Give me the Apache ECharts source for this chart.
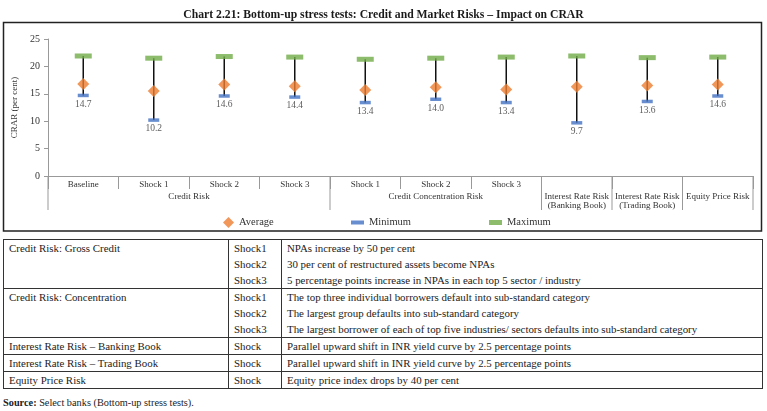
<!DOCTYPE html>
<html>
<head>
<meta charset="utf-8">
<script src="https://cdn.jsdelivr.net/npm/echarts@6/dist/echarts.min.js"></script>
<style>
  html,body{margin:0;padding:0;background:#fff;width:767px;height:411px;overflow:hidden;font-family:"Liberation Serif",serif;color:#222;}
  #chart{position:absolute;left:0;top:0;width:767px;height:236px;}
  #tbl{position:absolute;left:3px;top:239px;width:759px;}
  table{border-collapse:collapse;width:759px;font-size:10.9px;table-layout:fixed;border:1.5px solid #222;}
  td{padding:0 0 0 5px;height:16px;line-height:16px;vertical-align:top;white-space:nowrap;border-left:1px solid #333;border-right:1px solid #333;overflow:hidden;}
  tr.first td{border-top:1px solid #333;}
  tr.last td{border-bottom:1px solid #333;}
  #src{position:absolute;left:3px;top:397px;font-size:10.3px;color:#222;}
</style>
</head>
<body>
<div id="chart"></div>
<div id="tbl"></div>
<div id="src"><b>Source:</b> Select banks (Bottom-up stress tests).</div>
<script>
// ---- data ----
var categories = ['Baseline','Shock 1','Shock 2','Shock 3','Shock 1','Shock 2','Shock 3','',' ','  '];
var groupNames = ['Credit Risk','Credit Concentration Risk','Interest Rate Risk\n(Banking Book)','Interest Rate Risk\n(Trading Book)','Equity Price Risk'];
var groupSizes = [4,3,1,1,1];
var avgVals = [16.8,15.5,16.7,16.4,15.7,16.2,15.8,16.3,16.5,16.7];
var minVals = [14.7,10.2,14.6,14.4,13.4,14.0,13.4,9.7,13.6,14.6];
var maxVals = [21.9,21.5,21.8,21.7,21.3,21.5,21.7,21.9,21.6,21.7];
var yTicks = [0,5,10,15,20,25];

var tableGroups = ['Credit Risk: Gross Credit','Credit Risk: Concentration','Interest Rate Risk – Banking Book','Interest Rate Risk – Trading Book','Equity Price Risk'];
var tableShocks = [['Shock1','Shock2','Shock3'],['Shock1','Shock2','Shock3'],['Shock'],['Shock'],['Shock']];
var tableDescs = [
  ['NPAs increase by 50 per cent','30 per cent of restructured assets become NPAs','5 percentage points increase in NPAs in each top 5 sector / industry'],
  ['The top three individual borrowers default into sub-standard category','The largest group defaults into sub-standard category','The largest borrower of each of top five industries/ sectors defaults into sub-standard category'],
  ['Parallel upward shift in INR yield curve by 2.5 percentage points'],
  ['Parallel upward shift in INR yield curve by 2.5 percentage points'],
  ['Equity price index drops by 40 per cent']
];

// ---- table ----
var html = '<table><colgroup><col style="width:225px"><col style="width:53px"><col style="width:481px"></colgroup>';
tableGroups.forEach(function(g, gi){
  var n = tableShocks[gi].length;
  for (var k = 0; k < n; k++){
    var cls = (k === 0 ? 'first ' : '') + (k === n-1 ? 'last' : '');
    html += '<tr class="' + cls + '">';
    if (k === 0) html += '<td rowspan="' + n + '" style="border-bottom:1px solid #333">' + g + '</td>';
    html += '<td>' + tableShocks[gi][k] + '</td><td>' + tableDescs[gi][k] + '</td></tr>';
  }
});
html += '</table>';
document.getElementById('tbl').innerHTML = html;

// ---- group boundaries & centres ----
var bounds = [0], centres = [], acc = 0;
groupSizes.forEach(function(s){ centres.push(acc + s/2); acc += s; bounds.push(acc); });

var FONT = 'Liberation Serif';
var chart = echarts.init(document.getElementById('chart'), null, {renderer:'canvas'});
var rangeData = categories.map(function(c,i){ return [i, minVals[i], maxVals[i]]; });

chart.setOption({
  animation:false,
  textStyle:{fontFamily:FONT},
  title:{text:'Chart 2.21: Bottom-up stress tests: Credit and Market Risks – Impact on CRAR', left:'center', top:4,
    textStyle:{fontFamily:FONT, fontSize:11.7, fontWeight:'bold', color:'#1a1a1a'}},
  graphic:[{type:'rect', shape:{x:3.5,y:22.5,width:758,height:208.5}, style:{fill:'none', stroke:'#222', lineWidth:1.5}, silent:true, z:-1}],
  legend:[
    {data:[{name:'Average', icon:'diamond'}], left:218, top:212, itemWidth:11, itemHeight:11, itemGap:4,
      textStyle:{fontFamily:FONT, fontSize:10.5, color:'#333'}},
    {data:[{name:'Minimum', icon:'rect'}], left:346, top:212, itemWidth:13, itemHeight:4, itemGap:3,
      textStyle:{fontFamily:FONT, fontSize:10.5, color:'#333'}},
    {data:[{name:'Maximum', icon:'rect'}], left:484, top:212, itemWidth:13, itemHeight:5, itemGap:3,
      textStyle:{fontFamily:FONT, fontSize:10.5, color:'#333'}}
  ],
  grid:{left:48, top:39, right:14, bottom:60, containLabel:false},
  xAxis:[
    {type:'category', data:categories, boundaryGap:true,
      axisLine:{lineStyle:{color:'#999'}},
      axisTick:{show:true, interval:0, alignWithLabel:false, length:13, lineStyle:{color:'#999'}},
      axisLabel:{interval:0, fontFamily:FONT, fontSize:9, color:'#333', margin:4}},
    {type:'value', min:0, max:10, interval:0.5, position:'bottom',
      axisLine:{show:false}, axisTick:{show:false}, splitLine:{show:false},
      axisLabel:{fontFamily:FONT, fontSize:9, color:'#333', margin:16, lineHeight:9, verticalAlign:'top',
        showMinLabel:true, showMaxLabel:true,
        formatter:function(v){ for (var i=0;i<centres.length;i++){ if (Math.abs(centres[i]-v)<1e-6) return groupNames[i]; } return ''; }}}
  ],
  yAxis:{type:'value', min:yTicks[0], max:yTicks[yTicks.length-1], interval:5,
    name:'CRAR (per cent)', nameLocation:'middle', nameGap:26,
    nameTextStyle:{fontFamily:FONT, fontSize:9, color:'#333'},
    axisLine:{show:true, lineStyle:{color:'#999'}},
    axisTick:{show:true, length:4, lineStyle:{color:'#999'}},
    splitLine:{show:false},
    axisLabel:{fontFamily:FONT, fontSize:10, color:'#333', margin:8}},
  series:[
    {type:'custom', name:'sep', xAxisIndex:1, yAxisIndex:0, silent:true, clip:false,
      data:bounds.map(function(b){ return [b, 0]; }),
      renderItem:function(params, api){
        var p = api.coord([api.value(0), 0]);
        return {type:'line', shape:{x1:p[0], y1:p[1], x2:p[0], y2:p[1]+34}, style:{stroke:'#999', lineWidth:1}};
      }},
    {type:'custom', name:'range', xAxisIndex:0, yAxisIndex:0, silent:true,
      data:rangeData,
      renderItem:function(params, api){
        var a = api.coord([api.value(0), api.value(1)]);
        var b = api.coord([api.value(0), api.value(2)]);
        return {type:'line', shape:{x1:a[0], y1:a[1], x2:b[0], y2:b[1]}, style:{stroke:'#111', lineWidth:1.5}};
      }},
    {type:'scatter', name:'Maximum', xAxisIndex:0, data:maxVals, symbol:'rect', symbolSize:[17,5],
      itemStyle:{color:'#70AD47'}},
    {type:'scatter', name:'Minimum', xAxisIndex:0, data:minVals, symbol:'rect', symbolSize:[11,3.5],
      itemStyle:{color:'#4472C4'},
      label:{show:true, position:'bottom', distance:2, fontFamily:FONT, fontSize:9.5, color:'#333',
        formatter:function(p){ return p.value.toFixed(1); }}},
    {type:'scatter', name:'Average', xAxisIndex:0, data:avgVals, symbol:'diamond', symbolSize:12,
      itemStyle:{color:'#ED7D31'}}
  ]
});
</script>
</body>
</html>
